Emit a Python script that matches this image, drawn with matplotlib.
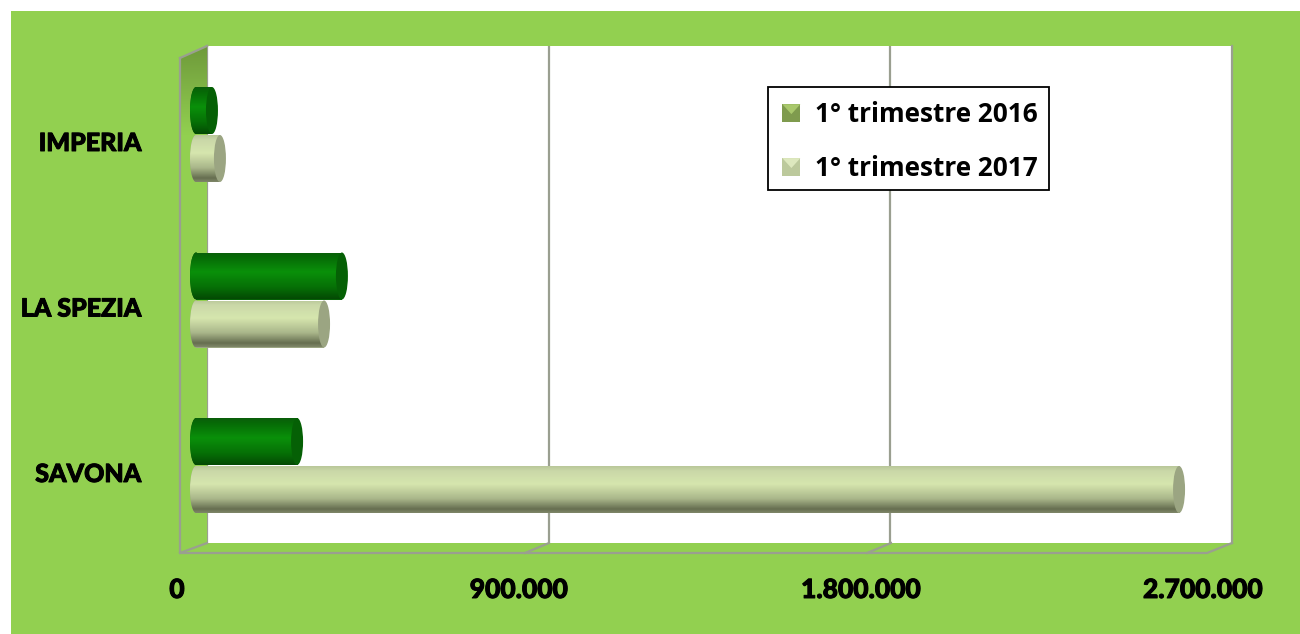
import matplotlib
matplotlib.use("Agg")
import matplotlib.pyplot as plt
import numpy as np
import matplotlib.patheffects as pe
from matplotlib.colors import LinearSegmentedColormap
from matplotlib.patches import Ellipse, Polygon, Rectangle
from matplotlib.transforms import ScaledTranslation
from matplotlib.legend_handler import HandlerBase

categories = ["SAVONA", "LA SPEZIA", "IMPERIA"]
series_names = ["1° trimestre 2016", "1° trimestre 2017"]
values_2016 = [266000, 384000, 42000]
values_2017 = [2587000, 337000, 63000]
x_ticks = [0, 900000, 1800000, 2700000]
x_labels = ["0", "900.000", "1.800.000", "2.700.000"]

W, H = 1300, 634
GREEN = "#92D050"
GRAY = "#9A9F90"
DPI = 100
fig = plt.figure(figsize=(W / DPI, H / DPI), dpi=DPI, facecolor="white")


def box(x0, y0, x1, y1):
    return [x0 / W, 1 - y1 / H, (x1 - x0) / W, (y1 - y0) / H]


fig.patches.append(Rectangle((11 / W, 0), 1 - 11 / W, 1 - 11 / H, transform=fig.transFigure,
                             facecolor=GREEN, edgecolor="none", zorder=-10))

# back wall with gridlines
back = fig.add_axes(box(207, 46, 1232, 543), facecolor="white", zorder=1)
back.set_xlim(0, 2700000)
back.set_ylim(0, 1)
for s in ["top", "bottom"]:
    back.spines[s].set_visible(False)
for s in ["left", "right"]:
    back.spines[s].set_color(GRAY)
    back.spines[s].set_linewidth(1.6)
back.set_xticks([])
back.set_yticks([])
back.vlines(x_ticks[1:3], 0, 1, color=GRAY, lw=1.6)

# floor and side wall, in figure pixels
lay = fig.add_axes([0, 0, 1, 1], facecolor="none", zorder=2)
lay.set_xlim(0, W)
lay.set_ylim(H, 0)
lay.axis("off")
wall = Polygon([(180, 58), (207, 46), (207, 543), (180, 553)], closed=True,
               facecolor=GREEN, edgecolor="none")
lay.add_patch(wall)
grad = np.linspace(0, 1, 200).reshape(-1, 1)
wall_cmap = LinearSegmentedColormap.from_list("w", [(0, "#6E9A3A"), (0.45, "#7FB245"), (1, "#92D050")])
im = lay.imshow(grad, extent=(180, 207, 135, 46), cmap=wall_cmap, aspect="auto", zorder=1)
im.set_clip_path(wall)
lay.set_xlim(0, W)
lay.set_ylim(H, 0)
lay.plot([180, 180, 1207, 1232], [58, 553, 553, 543], color=GRAY, lw=1.6, zorder=2)
lay.plot([180, 207], [58, 46], color=GRAY, lw=1.6, zorder=2)
lay.plot([180, 207], [553, 543], color=GRAY, lw=1.6, zorder=2)
lay.plot([525, 549], [553, 543], color=GRAY, lw=1.6, zorder=2)
lay.plot([867, 891], [553, 543], color=GRAY, lw=1.6, zorder=2)

# main data axes: x = 0 sits at pixel 196, the axes starts further left so caps are not cut
ux = 2700000 / 1026
xlim = (-(196 - 180) * ux, 2700000)
slot = 165.5
ylim = (-(553 - 465.5) / slot, (465.5 - 46) / slot)
ax = fig.add_axes(box(180, 46, 1222, 553), facecolor="none", zorder=3)
ax.set_xlim(*xlim)
ax.set_ylim(*ylim)
for s in ax.spines.values():
    s.set_visible(False)

uy = 1 / slot
h = 47 / slot
cap_w = 12 * ux

dark = LinearSegmentedColormap.from_list("d", [(0, "#0A5E0A"), (0.12, "#066C06"), (0.42, "#0A900A"),
                                               (0.75, "#067006"), (1, "#044A04")])
light = LinearSegmentedColormap.from_list("l", [(0, "#B9C79A"), (0.1, "#CAD8A8"), (0.38, "#D6E6AE"),
                                                (0.7, "#A9B68A"), (0.92, "#666E50"), (1, "#7F8768")])
cap_dark = "#056005"
cap_light = "#9BA582"

for offset, vals, cmap, capc in [(h / 2 + 0.5 * uy, values_2016, dark, cap_dark),
                                 (-h / 2 - 0.5 * uy, values_2017, light, cap_light)]:
    for i, v in enumerate(vals):
        yc = i + offset
        bar = ax.barh(yc, v, height=h, color=capc, edgecolor="none", zorder=3)[0]
        left = Ellipse((0, yc), cap_w, h, facecolor=capc, edgecolor="none", zorder=2)
        ax.add_patch(left)
        g = np.linspace(0, 1, 120).reshape(-1, 1)
        for clip in (bar, left):
            img = ax.imshow(g, extent=(-cap_w, v, yc - h / 2, yc + h / 2), cmap=cmap,
                            aspect="auto", origin="upper", zorder=4)
            img.set_clip_path(clip)
        ax.add_patch(Ellipse((v, yc), cap_w, h, facecolor=capc, edgecolor="none", zorder=5))

ax.set_xlim(*xlim)
ax.set_ylim(*ylim)

stroke = [pe.withStroke(linewidth=0.7, foreground="black")]
ax.set_yticks(range(len(categories)))
ax.set_yticklabels(categories, fontfamily="Lato", fontweight="black", fontsize=18, color="black",
                   path_effects=stroke)
ax.set_xticks(x_ticks)
ax.set_xticklabels(x_labels, fontfamily="Lato", fontweight="black", fontsize=19, color="black",
                   path_effects=stroke)
ax.tick_params(axis="both", length=0)
ax.tick_params(axis="y", pad=28)
ax.tick_params(axis="x", pad=18)
tx = ScaledTranslation(-19 / DPI, 0, fig.dpi_scale_trans)
for lab in ax.get_xticklabels():
    lab.set_transform(lab.get_transform() + tx)
ty = ScaledTranslation(0, -7 / DPI, fig.dpi_scale_trans)
for lab in ax.get_yticklabels():
    lab.set_transform(lab.get_transform() + ty)


# legend
class Swatch(HandlerBase):
    def create_artists(self, legend, orig, xd, yd, width, height, fontsize, trans):
        s = 13
        x0 = -xd + (width - s) / 2
        y0 = -yd + (height - s) / 2
        base, tri = orig.get_label_colors
        sq = Rectangle((x0, y0), s, s, facecolor=base, edgecolor="none", transform=trans)
        t = Polygon([(x0, y0 + s), (x0 + s, y0 + s), (x0 + s / 2, y0 + s * 0.45)],
                    facecolor=tri, edgecolor="none", transform=trans)
        return [sq, t]


fig.patches.append(Rectangle((768 / W, 1 - 190 / H), 281 / W, 103 / H, transform=fig.transFigure,
                             facecolor="white", edgecolor="black", linewidth=1.3, zorder=9))
h1 = Rectangle((0, 0), 1, 1)
h1.get_label_colors = ("#7F9B4E", "#A9C86C")
h2 = Rectangle((0, 0), 1, 1)
h2.get_label_colors = ("#BCC99C", "#DDE8BE")
leg = fig.legend([h1, h2], series_names, handler_map={Rectangle: Swatch()},
                 loc="upper left", bbox_to_anchor=(768 / W, 1 - 87 / H), borderaxespad=0,
                 prop={"family": "Open Sans", "weight": "bold", "size": 18.8},
                 labelcolor="black", frameon=False, labelspacing=1.03, handlelength=0.69,
                 handletextpad=0.55, borderpad=0.55)
leg.set_zorder(10)

fig.savefig("out.png", dpi=DPI, facecolor="white")
